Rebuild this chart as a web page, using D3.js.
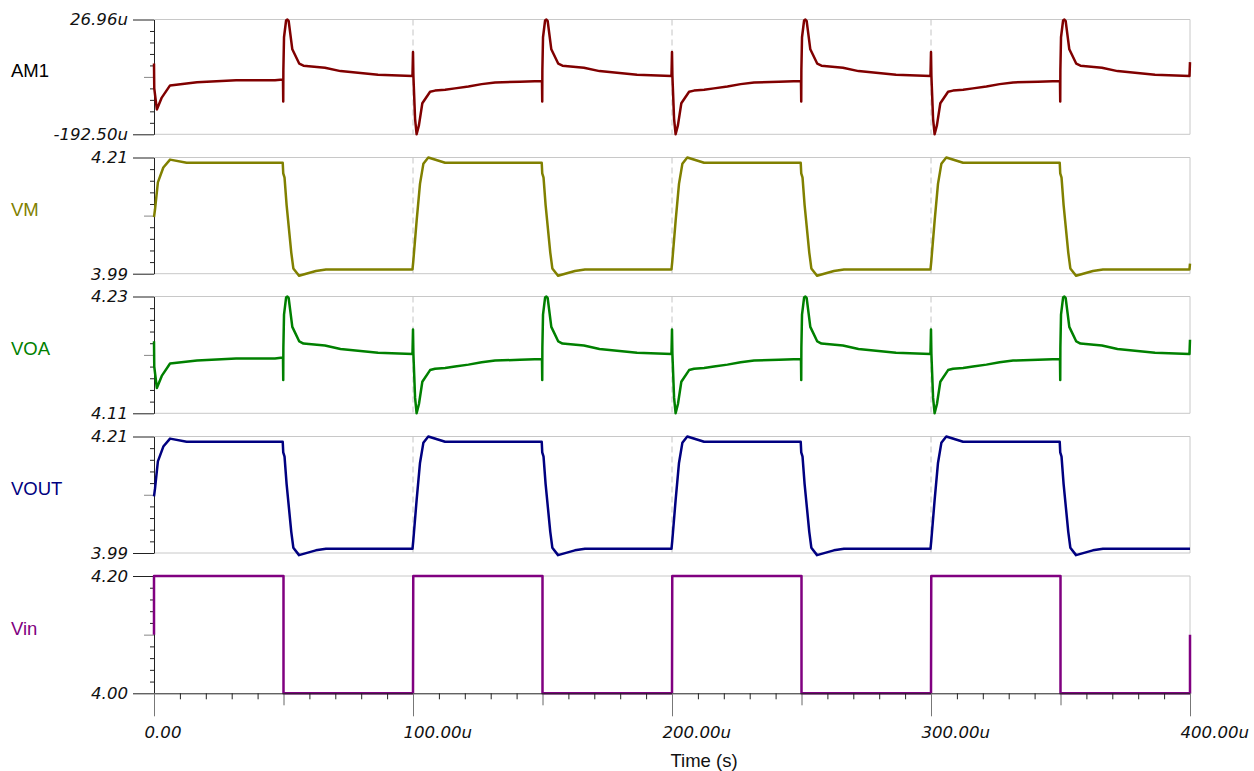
<!DOCTYPE html>
<html>
<head>
<meta charset="utf-8">
<script src="https://cdn.jsdelivr.net/npm/d3@7"></script>
<style>
  body { margin: 0; background: #fff; }
  svg { display: block; }
</style>
</head>
<body>
<div id="chart"></div>
<script>
// time in microseconds
const xTickValues = [0, 100, 200, 300, 400];
const xTickLabels = ['0.00', '100.00u', '200.00u', '300.00u', '400.00u'];

const seriesNames = ['AM1', 'VM', 'VOA', 'VOUT', 'Vin'];
const yMin = [-192.5, 3.99, 4.11, 3.99, 4.00];
const yMax = [26.96, 4.21, 4.23, 4.21, 4.20];
const yTickLabels = [
    ['-192.50u', '26.96u'],
    ['3.99', '4.21'],
    ['4.11', '4.23'],
    ['3.99', '4.21'],
    ['4.00', '4.20'],
];

// AM1 and VOA sampled at the same instants
const tAm = [
    0, 0.1, 1.1, 3, 6.2, 16.6, 31.7, 46.7, 49.8, 49.9, 49.95, 50.2, 51, 51.5, 52, 53.4, 56.1, 57.7, 66, 72, 86.5, 99.8,
    100, 100.15, 100.8, 101.4, 102.3, 103.6, 106.6, 108.5, 112.4, 116.2, 121.4, 126.5, 131.7, 141.3, 149.8,
    149.9, 149.95, 150.2, 151, 151.5, 152, 153.4, 156.1, 157.7, 166, 172, 186.5, 199.8,
    200, 200.15, 200.8, 201.4, 202.3, 203.6, 206.6, 208.5, 212.4, 216.2, 221.4, 226.5, 231.7, 241.3, 249.8,
    249.9, 249.95, 250.2, 251, 251.5, 252, 253.4, 256.1, 257.7, 266, 272, 286.5, 299.8,
    300, 300.15, 300.8, 301.4, 302.3, 303.6, 306.6, 308.5, 312.4, 316.2, 321.4, 326.5, 331.7, 341.3, 349.8,
    349.9, 349.95, 350.2, 351, 351.5, 352, 353.4, 356.1, 357.7, 366, 372, 386.5, 399.8,
    400,
];
const am1 = [
    -57.1, -104.7, -144.9, -122.3, -99.0, -93.2, -89.4, -89.3, -87.6, -129.9, -70, -7, 25, 26.96, 24, -30, -57.6, -61.4, -65.2, -71.7, -78.6, -81,
    -35.1, -80, -163, -192.5, -174.9, -133.2, -111.3, -109, -107.5, -104.7, -101, -96.6, -93.3, -92, -90.5,
    -129.9, -70, -7, 25, 26.96, 24, -30, -57.6, -61.4, -65.2, -71.7, -78.6, -81,
    -35.1, -80, -163, -192.5, -174.9, -133.2, -111.3, -109, -107.5, -104.7, -101, -96.6, -93.3, -92, -90.5,
    -129.9, -70, -7, 25, 26.96, 24, -30, -57.6, -61.4, -65.2, -71.7, -78.6, -81,
    -35.1, -80, -163, -192.5, -174.9, -133.2, -111.3, -109, -107.5, -104.7, -101, -96.6, -93.3, -92, -90.5,
    -129.9, -70, -7, 25, 26.96, 24, -30, -57.6, -61.4, -65.2, -71.7, -78.6, -81,
    -54.5,
];
const voa = [
    4.184, 4.158, 4.136, 4.1484, 4.1611, 4.1643, 4.1664, 4.1664, 4.1674, 4.1442, 4.177, 4.2114, 4.2289, 4.23, 4.2284, 4.1988, 4.1838, 4.1817, 4.1796, 4.1761, 4.1723, 4.171,
    4.1961, 4.1715, 4.1261, 4.11, 4.1196, 4.1424, 4.1544, 4.1557, 4.1565, 4.158, 4.16, 4.1624, 4.1642, 4.165, 4.1658,
    4.1442, 4.177, 4.2114, 4.2289, 4.23, 4.2284, 4.1988, 4.1838, 4.1817, 4.1796, 4.1761, 4.1723, 4.171,
    4.1961, 4.1715, 4.1261, 4.11, 4.1196, 4.1424, 4.1544, 4.1557, 4.1565, 4.158, 4.16, 4.1624, 4.1642, 4.165, 4.1658,
    4.1442, 4.177, 4.2114, 4.2289, 4.23, 4.2284, 4.1988, 4.1838, 4.1817, 4.1796, 4.1761, 4.1723, 4.171,
    4.1961, 4.1715, 4.1261, 4.11, 4.1196, 4.1424, 4.1544, 4.1557, 4.1565, 4.158, 4.16, 4.1624, 4.1642, 4.165, 4.1658,
    4.1442, 4.177, 4.2114, 4.2289, 4.23, 4.2284, 4.1988, 4.1838, 4.1817, 4.1796, 4.1761, 4.1723, 4.171,
    4.1855,
];

// VM and VOUT sampled at the same instants
const tVm = [
    0, 0.4, 1.5, 3.6, 6.2, 12.6, 49.7, 49.9, 50.4, 51.2, 53, 53.8, 56, 62.5, 66.4, 99.8,
    100.1, 101.4, 102.7, 104, 105.9, 112.4, 149.7, 149.9, 150.4, 151.2, 153, 153.8, 156, 162.5, 166.4, 199.8,
    200.1, 201.4, 202.7, 204, 205.9, 212.4, 249.7, 249.9, 250.4, 251.2, 253, 253.8, 256, 262.5, 266.4, 299.8,
    300.1, 301.4, 302.7, 304, 305.9, 312.4, 349.7, 349.9, 350.4, 351.2, 353, 353.8, 356, 362.5, 366.4, 399.8,
    400,
];
const vm = [
    4.097, 4.112, 4.163, 4.191, 4.206, 4.2, 4.2, 4.18, 4.172, 4.12, 4.03, 4.0, 3.986, 3.995, 3.998, 3.998,
    4.013, 4.09, 4.16, 4.198, 4.21, 4.2, 4.2, 4.18, 4.172, 4.12, 4.03, 4.0, 3.986, 3.995, 3.998, 3.998,
    4.013, 4.09, 4.16, 4.198, 4.21, 4.2, 4.2, 4.18, 4.172, 4.12, 4.03, 4.0, 3.986, 3.995, 3.998, 3.998,
    4.013, 4.09, 4.16, 4.198, 4.21, 4.2, 4.2, 4.18, 4.172, 4.12, 4.03, 4.0, 3.986, 3.995, 3.998, 3.998,
    4.009,
];
const vout = [
    4.097, 4.112, 4.163, 4.191, 4.206, 4.2, 4.2, 4.18, 4.172, 4.12, 4.03, 4.0, 3.986, 3.995, 3.998, 3.998,
    4.013, 4.09, 4.16, 4.198, 4.21, 4.2, 4.2, 4.18, 4.172, 4.12, 4.03, 4.0, 3.986, 3.995, 3.998, 3.998,
    4.013, 4.09, 4.16, 4.198, 4.21, 4.2, 4.2, 4.18, 4.172, 4.12, 4.03, 4.0, 3.986, 3.995, 3.998, 3.998,
    4.013, 4.09, 4.16, 4.198, 4.21, 4.2, 4.2, 4.18, 4.172, 4.12, 4.03, 4.0, 3.986, 3.995, 3.998, 3.998,
    3.998,
];

const tVin = [0, 0, 50, 50, 100, 100.1, 150, 150, 200, 200.1, 250, 250, 300, 300.1, 350, 350, 400, 400];
const vin = [4.1, 4.2, 4.2, 4.0, 4.0, 4.2, 4.2, 4.0, 4.0, 4.2, 4.2, 4.0, 4.0, 4.2, 4.2, 4.0, 4.0, 4.1];

const seriesData = [
    d3.zip(tAm, am1),
    d3.zip(tVm, vm),
    d3.zip(tAm, voa),
    d3.zip(tVm, vout),
    d3.zip(tVin, vin),
];

const lineColors = ['#800000', '#808000', '#008000', '#000080', '#800080'];
const labelColors = ['#000000', '#808000', '#008000', '#000080', '#800080'];

const width = 1254, height = 771;
const panelTop = [19.5, 157.5, 296.5, 436.5, 576];
const panelBottom = [134.3, 273.7, 413.3, 553, 693.3];
const gridColor = '#c8c8c8';

const svg = d3.select('#chart')
    .append('svg')
    .attr('width', width)
    .attr('height', height);

const x = d3.scaleLinear().domain([0, 400]).range([154, 1190]);

seriesNames.forEach((name, i) => {
    const top = panelTop[i], bottom = panelBottom[i];
    const y = d3.scaleLinear().domain([yMin[i], yMax[i]]).range([bottom, top]);
    const g = svg.append('g');

    // panel frame
    g.append('line')
        .attr('x1', x(0)).attr('x2', x(400))
        .attr('y1', top).attr('y2', top)
        .attr('stroke', gridColor);
    g.append('line')
        .attr('x1', x(400)).attr('x2', x(400))
        .attr('y1', top).attr('y2', bottom)
        .attr('stroke', gridColor);
    if (i < seriesNames.length - 1) {
        g.append('line')
            .attr('x1', x(0)).attr('x2', x(400))
            .attr('y1', bottom).attr('y2', bottom)
            .attr('stroke', gridColor);
    }

    // dashed verticals
    g.selectAll('.vgrid')
        .data([100, 200, 300])
        .join('line')
        .attr('x1', (d) => x(d)).attr('x2', (d) => x(d))
        .attr('y1', top).attr('y2', bottom)
        .attr('stroke', '#c4c4c4')
        .attr('stroke-dasharray', '6,4');

    // y axis
    const steps = d3.range(11).map((k) => yMin[i] + (k * (yMax[i] - yMin[i])) / 10);
    const minor = steps.filter((_, k) => k !== 0 && k !== 5 && k !== 10);

    g.append('g')
        .attr('transform', `translate(${x(0)},0)`)
        .call(d3.axisLeft(y).tickValues(minor).tickSize(4).tickFormat(''))
        .call((a) => a.select('.domain').remove())
        .call((a) => a.selectAll('line').attr('stroke', '#222'));

    g.append('g')
        .attr('transform', `translate(${x(0)},0)`)
        .call(d3.axisLeft(y).tickValues([steps[5]]).tickSize(10).tickFormat(''))
        .call((a) => a.select('.domain').remove())
        .call((a) => a.selectAll('line').attr('stroke', '#888'));

    const ya = g.append('g')
        .attr('transform', `translate(${x(0)},0)`)
        .call(d3.axisLeft(y)
            .tickValues([yMin[i], yMax[i]])
            .tickSize(21)
            .tickSizeOuter(0)
            .tickPadding(5)
            .tickFormat((d, k) => yTickLabels[i][k]));
    ya.select('.domain').attr('stroke', '#222');
    ya.selectAll('line').attr('stroke', '#222');
    ya.selectAll('text')
        .attr('font-family', '"DejaVu Sans", sans-serif')
        .attr('font-size', 16.6)
        .attr('font-style', 'italic')
        .attr('fill', '#111');

    // series name
    g.append('text')
        .attr('x', 11)
        .attr('y', (top + bottom) / 2)
        .attr('font-family', '"Liberation Sans", Arial, sans-serif')
        .attr('font-size', 18.5)
        .attr('fill', labelColors[i])
        .text(name);

    // trace
    const line = d3.line()
        .x((d) => x(d[0]))
        .y((d) => y(d[1]));

    g.append('path')
        .datum(seriesData[i])
        .attr('fill', 'none')
        .attr('stroke', lineColors[i])
        .attr('stroke-width', 2.5)
        .attr('stroke-linejoin', 'round')
        .attr('d', line);

    // time axis under the last panel
    if (i === seriesNames.length - 1) {
        const xg = svg.append('g').attr('transform', `translate(0,${bottom})`);

        xg.append('g')
            .call(d3.axisBottom(x)
                .tickValues(d3.range(10, 400, 10).filter((d) => d % 50 !== 0))
                .tickSize(6).tickFormat(''))
            .call((a) => a.select('.domain').remove())
            .call((a) => a.selectAll('line').attr('stroke', '#222'));

        xg.append('g')
            .call(d3.axisBottom(x).tickValues([50, 150, 250, 350]).tickSize(12).tickFormat(''))
            .call((a) => a.select('.domain').remove())
            .call((a) => a.selectAll('line').attr('stroke', '#666'));

        const xa = xg.append('g')
            .call(d3.axisBottom(x)
                .tickValues(xTickValues)
                .tickSize(23)
                .tickSizeOuter(0)
                .tickFormat((d, k) => xTickLabels[k]));
        xa.select('.domain').attr('stroke', '#222');
        xa.selectAll('line').attr('stroke', '#777');
        xa.selectAll('text')
            .attr('text-anchor', 'start')
            .attr('x', -10)
            .attr('y', 44.7)
            .attr('dy', 0)
            .attr('font-family', '"DejaVu Sans", sans-serif')
            .attr('font-size', 16.6)
            .attr('font-style', 'italic')
            .attr('fill', '#111');

        svg.append('text')
            .attr('x', 704)
            .attr('y', 767)
            .attr('text-anchor', 'middle')
            .attr('font-family', '"Liberation Sans", Arial, sans-serif')
            .attr('font-size', 18.5)
            .attr('fill', '#111')
            .text('Time (s)');
    }
});
</script>
</body>
</html>
